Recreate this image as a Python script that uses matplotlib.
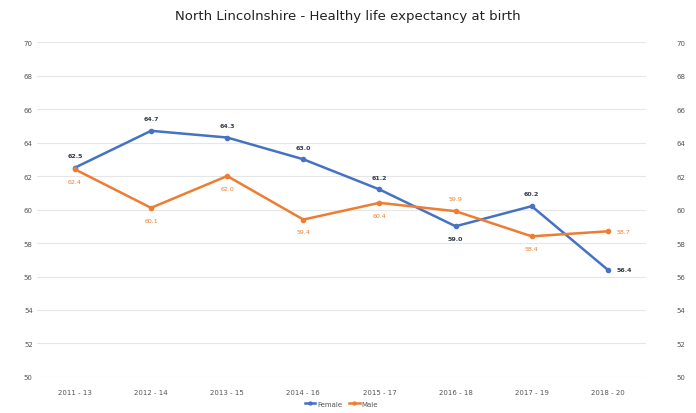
import matplotlib
matplotlib.use("Agg")
import matplotlib.pyplot as plt

categories = ["2011 - 13", "2012 - 14", "2013 - 15", "2014 - 16", "2015 - 17", "2016 - 18", "2017 - 19", "2018 - 20"]
female = [62.5, 64.7, 64.3, 63.0, 61.2, 59.0, 60.2, 56.4]
male = [62.4, 60.1, 62.0, 59.4, 60.4, 59.9, 58.4, 58.7]
yticks = list(range(50, 71, 2))

# label placement: 'a' above, 'b' below, 'r' right
female_pos = ['a', 'a', 'a', 'a', 'a', 'b', 'a', 'r']
male_pos = ['b', 'b', 'b', 'b', 'b', 'a', 'b', 'r']

BLUE = "#4472C4"
ORANGE = "#ED7D31"

fig = plt.figure(figsize=(6.96, 4.14), dpi=100)
ax = fig.add_axes([0.053, 0.087, 0.875, 0.809])
x = list(range(len(categories)))
ax.plot(x, female, color=BLUE, lw=1.8, marker='o', ms=3, label="Female")
ax.plot(x, male, color=ORANGE, lw=1.8, marker='o', ms=3, label="Male")

def annotate(vals, pos, color, weight):
    for i, (v, p) in enumerate(zip(vals, pos)):
        if p == 'a':
            off, ha, va = (0, 7), 'center', 'bottom'
        elif p == 'b':
            off, ha, va = (0, -7), 'center', 'top'
        else:
            off, ha, va = (6, 0), 'left', 'center'
        ax.annotate(f"{v:.1f}", (i, v), xytext=off, textcoords='offset points',
                    ha=ha, va=va, fontsize=4.5, color=color, fontweight=weight)

annotate(female, female_pos, "#333a4a", 'bold')
annotate(male, male_pos, ORANGE, 'normal')

ax.set_xlim(-0.5, len(categories) - 0.5)
ax.set_ylim(50, 70)
ax.set_yticks(yticks)
ax.set_yticklabels([str(t) for t in yticks])
ax.set_xticks(x)
ax.set_xticklabels(categories)
ax.grid(axis='y', color="#e6e6e6", lw=0.8)
ax.set_axisbelow(True)
for s in ax.spines.values():
    s.set_visible(False)
ax.tick_params(axis='both', length=0, labelsize=5, colors="#555555")
ax.tick_params(axis='y', pad=3)
ax.tick_params(axis='x', pad=9)

ax2 = ax.twinx()
ax2.set_ylim(50, 70)
ax2.set_yticks(yticks)
ax2.set_yticklabels([str(t) for t in yticks])
for s in ax2.spines.values():
    s.set_visible(False)
ax2.tick_params(axis='y', length=0, labelsize=5, colors="#555555", pad=22)

fig.suptitle("North Lincolnshire - Healthy life expectancy at birth", y=0.975,
             fontsize=9.5, color="#222222")
leg = ax.legend(loc='center', bbox_to_anchor=(0.5, -0.08), ncol=2, frameon=False,
                fontsize=5, handlelength=1.5, columnspacing=1.0, handletextpad=0.3,
                markerscale=0.7)
for t in leg.get_texts():
    t.set_color("#555555")

fig.savefig("out.png", dpi=100, facecolor="white")
